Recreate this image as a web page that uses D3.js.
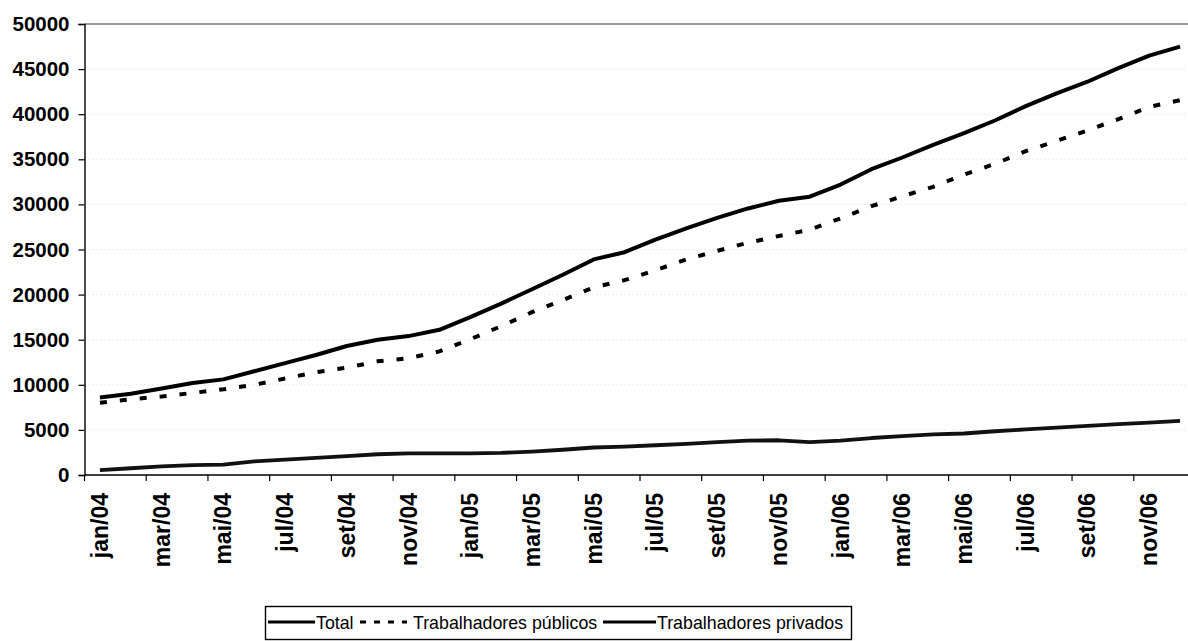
<!DOCTYPE html>
<html lang="pt">
<head>
<meta charset="utf-8">
<script src="https://cdn.jsdelivr.net/npm/d3@7"></script>
<style>
  html, body { margin: 0; padding: 0; background: #fff; }
  svg { display: block; }
  text { font-family: Arial, "Liberation Sans", Helvetica, sans-serif; fill: #000; }
</style>
</head>
<body>
<svg id="chart" width="1188" height="641"></svg>
<script>
// Monthly series, jan/04 – dez/06
const months = [
  "jan/04","fev/04","mar/04","abr/04","mai/04","jun/04","jul/04","ago/04","set/04","out/04","nov/04","dez/04",
  "jan/05","fev/05","mar/05","abr/05","mai/05","jun/05","jul/05","ago/05","set/05","out/05","nov/05","dez/05",
  "jan/06","fev/06","mar/06","abr/06","mai/06","jun/06","jul/06","ago/06","set/06","out/06","nov/06","dez/06"
];

const total = [
  8600, 9000, 9600, 10200, 10600, 11500, 12400, 13300, 14300, 15000, 15400, 16100,
  17500, 19000, 20600, 22200, 23900, 24700, 26100, 27350, 28500, 29550, 30400, 30850,
  32200, 33900, 35200, 36600, 37900, 39300, 40900, 42300, 43600, 45100, 46500, 47500
];

const publicos = [
  8000, 8400, 8700, 9100, 9500, 10000, 10700, 11400, 11900, 12600, 12950, 13700,
  15050, 16500, 18050, 19400, 20800, 21600, 22700, 23900, 24850, 25750, 26500, 27200,
  28450, 29800, 30900, 31950, 33300, 34500, 35900, 37050, 38200, 39450, 40800, 41550
];

const privados = [
  550, 750, 950, 1100, 1150, 1500, 1700, 1900, 2100, 2300, 2400, 2400,
  2400, 2450, 2600, 2800, 3050, 3150, 3300, 3450, 3650, 3800, 3850, 3650,
  3800, 4100, 4300, 4500, 4600, 4850, 5050, 5250, 5450, 5650, 5800, 6000
];

const yTicks = [0, 5000, 10000, 15000, 20000, 25000, 30000, 35000, 40000, 45000, 50000];

const seriesNames = ["Total", "Trabalhadores públicos", "Trabalhadores privados"];

const svg = d3.select("#chart");

const plot = { left: 84.5, right: 1195.5, top: 24, bottom: 475 };

const x = d3.scaleBand().domain(months).range([plot.left, plot.right]).padding(0);
const y = d3.scaleLinear().domain([0, 50000]).range([plot.bottom, plot.top]);
const cx = m => x(m) + x.bandwidth() / 2;

// Horizontal gridlines (faint dotted)
svg.append("g")
  .selectAll("line")
  .data(yTicks.filter(v => v > 0 && v < 50000))
  .join("line")
  .attr("x1", plot.left).attr("x2", plot.right)
  .attr("y1", d => y(d)).attr("y2", d => y(d))
  .attr("stroke", "#d6d6d6")
  .attr("stroke-width", 1)
  .attr("stroke-dasharray", "1,3");

// Top frame line
svg.append("line")
  .attr("x1", plot.left).attr("x2", plot.right)
  .attr("y1", y(50000)).attr("y2", y(50000))
  .attr("stroke", "#7a7a7a").attr("stroke-width", 1.3);

// Y axis
const yAxis = d3.axisLeft(y).tickValues(yTicks).tickSize(6).tickPadding(9).tickFormat(d3.format("d"));
const gy = svg.append("g").attr("transform", `translate(${plot.left},0)`).call(yAxis);
gy.select(".domain").attr("stroke", "#000").attr("stroke-width", 1.4);
gy.selectAll(".tick line").attr("stroke", "#000").attr("stroke-width", 1.2);
gy.selectAll(".tick text")
  .attr("font-size", 20.5)
  .attr("font-weight", "bold")
  .attr("font-family", "Arial, 'Liberation Sans', sans-serif");

// X axis: ticks between every second month, labels on every second month
const tickIdx = months.map((m, i) => i).filter(i => i % 2 === 0);
const gx = svg.append("g");
gx.append("line")
  .attr("x1", plot.left).attr("x2", plot.right)
  .attr("y1", plot.bottom).attr("y2", plot.bottom)
  .attr("stroke", "#000").attr("stroke-width", 1.4);
gx.selectAll("line.tk")
  .data(tickIdx)
  .join("line")
  .attr("class", "tk")
  .attr("x1", i => x(months[i])).attr("x2", i => x(months[i]))
  .attr("y1", plot.bottom).attr("y2", plot.bottom + 6)
  .attr("stroke", "#000").attr("stroke-width", 1.2);
gx.selectAll("text")
  .data(tickIdx)
  .join("text")
  .attr("transform", i => `translate(${cx(months[i]) + 8},${plot.bottom + 18}) rotate(-90)`)
  .attr("text-anchor", "end")
  .attr("font-size", 23)
  .attr("font-weight", "bold")
  .text(i => months[i]);

// Lines
const line = d3.line().x((d, i) => cx(months[i])).y(d => y(d)).curve(d3.curveLinear);

svg.append("path").datum(privados)
  .attr("d", line).attr("fill", "none")
  .attr("stroke", "#111").attr("stroke-width", 3.8).attr("stroke-linejoin", "round");

svg.append("path").datum(publicos)
  .attr("d", line).attr("fill", "none")
  .attr("stroke", "#000").attr("stroke-width", 4)
  .attr("stroke-dasharray", "7,13");

svg.append("path").datum(total)
  .attr("d", line).attr("fill", "none")
  .attr("stroke", "#000").attr("stroke-width", 4).attr("stroke-linejoin", "round");

// Legend
const lg = svg.append("g");
lg.append("rect")
  .attr("x", 265.5).attr("y", 606.5).attr("width", 586).attr("height", 33)
  .attr("fill", "#fff").attr("stroke", "#000").attr("stroke-width", 1.4);

const legendItems = [
  { name: seriesNames[0], x1: 268, x2: 315, tx: 316, dash: null, w: 3.2 },
  { name: seriesNames[1], x1: 360, x2: 407, tx: 413, dash: "6,8", w: 3.2 },
  { name: seriesNames[2], x1: 603, x2: 656, tx: 657, dash: null, w: 3 }
];
const ly = 628;
legendItems.forEach(it => {
  lg.append("line")
    .attr("x1", it.x1).attr("x2", it.x2).attr("y1", ly - 6).attr("y2", ly - 6)
    .attr("stroke", "#000").attr("stroke-width", it.w)
    .attr("stroke-dasharray", it.dash);
  lg.append("text")
    .attr("x", it.tx).attr("y", ly + 1)
    .attr("font-size", 17.8)
    .text(it.name);
});
</script>
</body>
</html>
